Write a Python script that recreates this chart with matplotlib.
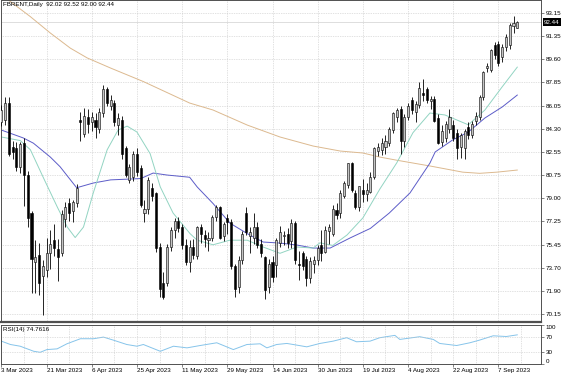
import numpy as np
import matplotlib
matplotlib.use('Agg')
import matplotlib.pyplot as plt

plt.rcParams['font.family'] = ['Liberation Sans', 'DejaVu Sans']

# Daily candles, 3 Mar 2023 -> 14 Sep 2023 (one entry per trading day)
opens = [84.8, 85.0, 86.3, 82.9, 82.8, 81.4, 83.2, 80.8, 77.9, 74.1, 74.7, 73.1, 73.5, 74.8, 75.8, 75.1, 74.8, 77.4, 78.6, 78.0, 78.6,
         85.0, 83.9, 85.2, 84.8, 85.0, 84.3, 85.5, 87.3, 86.0, 86.3, 84.6, 85.0, 82.8, 80.4, 80.6, 82.4, 81.3, 77.9, 78.2,
         79.8, 79.4, 75.3, 72.5, 72.5, 75.3, 76.6, 77.3, 76.8, 75.4, 74.1, 75.3, 74.6, 76.8, 76.2, 75.8, 76.0, 77.6, 78.3, 76.1, 77.5, 77.2, 73.8,
         72.2, 74.3, 77.9, 76.1, 76.0, 76.8, 75.5, 74.5, 72.2, 74.1, 73.9, 75.6, 76.1, 76.3, 75.7, 77.1, 74.0, 74.8, 74.4, 72.9, 74.0, 74.3,
         75.4, 74.9, 76.5, 76.3, 78.1, 77.9, 79.2, 80.0, 81.7, 79.4, 78.3, 79.6, 79.3, 79.5, 80.6, 82.6, 82.7, 82.9, 83.2, 84.2,
         85.2, 85.8, 83.4, 85.2, 86.5, 85.6, 86.1, 87.0, 87.3, 86.4, 86.6, 85.1, 83.3, 83.6, 84.3, 84.6, 84.0, 82.9, 82.8, 84.4, 83.8, 84.9, 85.2,
         86.7, 88.9, 88.8, 90.7, 90.8, 89.8, 90.5, 90.7, 92.1, 92.02]
highs = [86.1, 86.7, 86.7, 83.4, 83.3, 83.3, 83.6, 81.1, 78.0, 75.8, 75.6, 74.3, 76.0, 76.6, 77.0, 75.9, 78.1, 78.7, 79.0, 78.9, 80.1,
         85.6, 85.9, 85.8, 85.6, 85.5, 85.9, 87.6, 87.5, 86.9, 86.5, 85.5, 85.3, 83.0, 81.6, 82.6, 82.8, 81.5, 78.9, 80.6,
         80.2, 79.5, 75.6, 73.4, 75.5, 76.8, 77.5, 77.6, 77.0, 75.9, 75.8, 75.9, 76.9, 77.0, 76.6, 76.4, 77.7, 78.5, 78.4, 77.2, 77.8, 77.4, 74.0,
         74.6, 76.5, 78.3, 76.8, 77.9, 77.2, 75.9, 74.6, 74.4, 74.6, 76.0, 76.9, 76.5, 76.7, 77.4, 77.3, 75.0, 75.0, 74.6, 74.5, 74.6, 75.4,
         76.6, 76.9, 77.0, 78.5, 78.6, 79.6, 80.3, 81.7, 81.8, 79.6, 79.9, 80.5, 80.2, 81.0, 82.9, 83.2, 83.6, 83.8, 84.4, 85.6,
         85.9, 86.0, 85.4, 86.3, 86.7, 86.4, 87.9, 88.1, 87.5, 86.8, 86.8, 85.4, 84.6, 84.9, 85.8, 85.0, 84.3, 84.0, 84.3, 84.8, 84.9, 85.6, 86.9,
         88.7, 89.3, 90.4, 90.9, 91.0, 90.8, 91.5, 92.4, 92.9, 92.52]
lows = [84.5, 84.6, 82.2, 82.0, 81.1, 80.9, 78.4, 76.8, 71.8, 71.8, 71.6, 70.1, 73.0, 73.6, 74.6, 72.7, 74.6, 76.8, 77.3, 77.2, 78.3,
        83.4, 83.7, 84.0, 84.1, 83.6, 84.0, 85.2, 86.0, 85.7, 84.5, 83.8, 82.0, 80.6, 80.2, 80.3, 80.7, 78.3, 77.2, 77.8,
        78.8, 74.9, 71.5, 71.3, 72.3, 75.0, 76.0, 76.4, 75.1, 73.9, 73.4, 74.4, 74.4, 75.6, 75.3, 75.0, 75.7, 77.3, 75.9, 75.7, 76.3, 73.6, 71.5,
        71.8, 74.0, 76.2, 74.8, 75.5, 75.2, 74.5, 71.3, 71.8, 72.6, 73.0, 75.3, 75.4, 75.2, 75.2, 74.0, 72.8, 73.5, 72.3, 72.5, 73.3, 73.9,
        74.2, 74.8, 75.5, 76.1, 77.4, 77.5, 79.0, 79.8, 79.5, 78.2, 78.0, 78.7, 78.8, 79.4, 80.5, 82.2, 82.3, 82.4, 83.0, 84.0,
        84.8, 82.4, 82.9, 85.0, 85.4, 84.8, 85.9, 86.4, 86.3, 85.8, 84.8, 83.1, 83.0, 83.3, 84.0, 83.4, 82.0, 82.1, 82.0, 83.5, 83.6, 84.6, 85.0,
        86.5, 88.6, 88.6, 89.6, 89.1, 89.4, 90.2, 90.4, 91.6, 92.00]
closes = [85.7, 86.3, 82.4, 82.5, 81.4, 83.1, 80.8, 77.5, 74.4, 74.5, 72.5, 73.8, 74.8, 75.5, 75.2, 74.5, 77.8, 78.3, 77.9, 78.7, 79.8,
          84.8, 85.3, 84.7, 85.2, 84.4, 85.6, 87.3, 86.3, 86.5, 84.8, 85.1, 82.4, 80.8, 81.4, 82.4, 81.0, 78.5, 78.2, 80.4,
          79.2, 75.2, 72.1, 71.5, 75.3, 76.6, 77.3, 76.7, 75.4, 74.1, 75.3, 74.7, 76.8, 76.3, 75.9, 76.0, 77.6, 78.3, 76.0, 77.0, 77.2, 73.8, 72.1,
          74.3, 76.3, 76.4, 76.4, 76.8, 75.4, 74.8, 72.0, 74.0, 73.0, 75.8, 76.4, 76.2, 75.6, 77.1, 74.3, 73.9, 73.8, 72.9, 74.2, 74.3, 75.2,
          74.8, 76.6, 76.8, 78.2, 77.7, 79.4, 80.2, 81.7, 79.6, 78.3, 79.9, 79.3, 79.6, 80.6, 82.8, 82.9, 83.2, 83.4, 84.3, 85.5,
          85.7, 83.4, 85.2, 86.0, 85.7, 86.2, 87.4, 86.9, 86.5, 86.6, 84.9, 83.2, 84.1, 84.7, 85.2, 83.6, 82.8, 83.8, 84.1, 83.8, 84.7, 85.3, 86.7,
          88.6, 89.1, 90.3, 89.9, 89.3, 90.5, 91.3, 92.2, 92.4, 92.44]

# moving averages: (bar index, value)
ma_fast_x = [0, 5, 7.7, 11.1, 14.9, 17.5, 19.6, 21.8, 24.4, 28.1, 31, 33.4, 36, 39.5, 42.2, 45.6, 50.1, 52, 56.2, 60.7, 65.3,
             69.5, 74, 78.5, 82.8, 84.6, 88, 91.8, 96, 100.5, 105, 109.3, 113.8, 117.8, 124, 128.4, 133, 137]
ma_fast = [83.67, 83.4, 82.7, 80.6, 78.3, 76.8, 76.0, 76.8, 79.4, 82.7, 84.2, 84.5, 84.05, 82.4, 79.86, 77.87, 76.3, 75.8, 75.45, 75.8, 75.8,
           75.28, 74.8, 75.28, 75.2, 75.6, 75.4, 76.2, 77.5, 79.7, 81.7, 84.0, 85.5, 85.35, 84.6, 85.73, 87.5, 89.0]
ma_mid_x = [0, 5.8, 8.5, 13, 15.6, 19, 20, 24.4, 29, 37, 40.3, 44, 50, 52, 56.2, 60.7, 65.3, 69.5, 74, 78.5, 82.8, 87.3, 92.6, 98, 103,
            108.5, 113.8, 115.2, 119.8, 124, 128.4, 133, 137]
ma_mid = [84.2, 83.6, 83.2, 82.14, 81.4, 80.16, 79.8, 80.16, 80.4, 80.5, 80.92, 80.77, 80.6, 79.86, 78.6, 77.1, 76.3, 75.66, 75.58, 75.43,
          75.2, 75.2, 75.97, 76.7, 77.87, 79.4, 81.68, 82.53, 83.44, 84.05, 85.12, 85.96, 86.87]
ma_slow_x = [0, 2.4, 7.7, 13, 18.3, 22.8, 29, 37.7, 50, 56.2, 65.3, 74, 82.8, 90, 96, 100.5, 105, 114, 122.5, 127, 131.6, 137]
ma_slow = [94.5, 94.0, 92.85, 91.6, 90.45, 89.7, 88.93, 87.9, 86.26, 85.73, 84.58, 83.67, 82.98, 82.6, 82.45, 82.14, 81.9, 81.45,
           80.99, 80.9, 80.99, 81.15]

# RSI(14)
rsi_x = [0, 2.4, 5, 8.6, 10.3, 12.1, 14.8, 17.4, 21, 24.5, 27.1, 29.8, 33.3, 36, 37.7, 42.2, 45.7, 49.3, 52.8, 57.2, 61.6, 65.2,
         68.7, 70.5, 73.1, 75.8, 77.5, 81.1, 84.6, 88.1, 91.7, 94.3, 97.9, 100.5, 104.5, 105.8, 111.1, 114.7, 116.4, 120.9, 124.4,
         127, 130.6, 134.1, 137]
rsi_vals = [58.6, 50, 45.6, 32.6, 30, 37, 38.8, 51.8, 64.8, 64.8, 69, 61, 50, 45.6, 50, 32.6, 45.6, 41.4, 47.4, 54.4, 37, 50,
            51.8, 41.4, 50, 52.7, 50, 44, 52.7, 58.6, 67.4, 57, 58.6, 67.4, 73.4, 63, 70, 63, 52.7, 47.4, 54.4,
            61.3, 72.3, 70.5, 74.76]

price_ticks = [70.15, 71.90, 73.70, 75.45, 77.25, 79.00, 80.75, 82.55, 84.30, 86.05, 87.85, 89.60, 91.35, 93.15]
date_labels = ['3 Mar 2023', '21 Mar 2023', '6 Apr 2023', '25 Apr 2023', '11 May 2023', '29 May 2023',
               '14 Jun 2023', '30 Jun 2023', '19 Jul 2023', '4 Aug 2023', '22 Aug 2023', '7 Sep 2023']

opens, highs, lows, closes = map(np.array, (opens, highs, lows, closes))
idx = np.arange(len(closes))
up = closes >= opens

W, H = 564, 376
fig = plt.figure(figsize=(W / 100, H / 100), dpi=100)
ax = fig.add_axes([1 / W, 1 - 322 / H, 540 / W, 322 / H])
ax_rsi = fig.add_axes([1 / W, 1 - 364 / H, 540 / W, 39 / H], sharex=ax)

fs = 4.5
grid_kw = dict(color='#c4c4c4', lw=0.5, ls=(0, (1, 1.5)))

# candles
ax.vlines(idx, lows, highs, color='black', lw=0.6, zorder=3)
ax.bar(idx[up], (closes - opens)[up], bottom=opens[up], width=0.55,
       color='#c4c4c4', edgecolor='black', lw=0.4, zorder=4)
ax.bar(idx[~up], (opens - closes)[~up], bottom=closes[~up], width=0.55,
       color='black', edgecolor='black', lw=0.4, zorder=4)

ax.plot(ma_slow_x, ma_slow, color='#dcb98f', lw=0.7, zorder=2)
ax.plot(ma_mid_x, ma_mid, color='#5c5cc8', lw=0.7, zorder=2)
ax.plot(ma_fast_x, ma_fast, color='#92d4c2', lw=0.7, zorder=2)

ax.axhline(closes[-1], color='#d0d0d0', lw=0.5, zorder=1)

ax.set_xlim(-0.1, 143.3)
ax.set_ylim(69.56, 94.12)
ax.set_yticks(price_ticks)
ax.set_yticklabels(['%.2f' % p for p in price_ticks])
ax.yaxis.tick_right()
ax.tick_params(axis='y', length=2, width=0.5, pad=1.5, labelsize=fs, color='#505050')
ax.tick_params(axis='x', which='both', length=0, labelbottom=False)
ax.set_xticks(np.arange(0, 144, 6))
ax.grid(True, axis='both', **grid_kw)
for s in ax.spines.values():
    s.set_color('#505050')
    s.set_linewidth(0.7)
ax.spines['bottom'].set_linewidth(1.6)

ax.text(0.004, 0.993, 'FBRENT,Daily  92.02 92.52 92.00 92.44', transform=ax.transAxes,
        va='top', ha='left', fontsize=fs)
ax.text(1.006, closes[-1], '%.2f' % closes[-1], transform=ax.get_yaxis_transform(),
        va='center', ha='left', fontsize=fs, color='white', zorder=10,
        bbox=dict(facecolor='black', edgecolor='none', pad=0.8), clip_on=False)

# RSI panel
ax_rsi.plot(rsi_x, rsi_vals, color='#86c4ea', lw=0.7)
ax_rsi.set_ylim(0, 100)
ax_rsi.set_yticks([0, 30, 70, 100])
ax_rsi.yaxis.tick_right()
ax_rsi.tick_params(axis='y', length=2, width=0.5, pad=1.5, labelsize=fs, color='#505050')
rl = ax_rsi.get_yticklabels()
rl[0].set_va('bottom')
rl[-1].set_va('top')
ax_rsi.set_xticks(np.arange(0, 133, 12))
ax_rsi.set_xticklabels(date_labels, ha='left')
ax_rsi.set_xticks(np.arange(6, 144, 12), minor=True)
ax_rsi.tick_params(axis='x', which='major', length=2, width=0.5, pad=1, labelsize=fs, color='#505050')
ax_rsi.tick_params(axis='x', which='minor', length=0)
ax_rsi.grid(True, axis='x', which='both', **grid_kw)
for lvl in (30, 70):
    ax_rsi.axhline(lvl, **grid_kw)
for s in ax_rsi.spines.values():
    s.set_color('#505050')
    s.set_linewidth(0.7)
ax_rsi.text(0.004, 0.94, 'RSI(14) 74.7616', transform=ax_rsi.transAxes,
            va='top', ha='left', fontsize=fs)

fig.savefig('out.png', dpi=100, facecolor='white')
